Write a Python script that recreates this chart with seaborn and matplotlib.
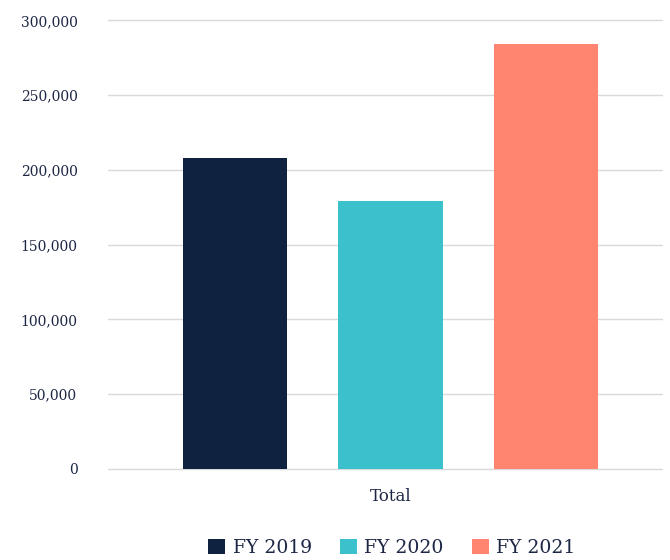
import matplotlib
matplotlib.use("Agg")
import matplotlib.pyplot as plt
import seaborn as sns
import pandas as pd
from matplotlib.ticker import FuncFormatter

categories = ["Total"]
series = ["FY 2019", "FY 2020", "FY 2021"]
values = [208000, 179500, 284000]
colors = ["#0f2341", "#3ac1cb", "#ff8571"]

df = pd.DataFrame({"cat": categories * len(series), "year": series, "value": values})

sns.set_theme(style="white")
plt.rcParams["font.family"] = ["DejaVu Serif"]
text_color = "#1d2745"

fig = plt.figure(figsize=(6.7, 5.6), dpi=100)
ax = fig.add_axes([108 / 670, 1 - 469 / 560, (662 - 108) / 670, (469 - 20.3) / 560])

sns.barplot(data=df, x="cat", y="value", hue="year", palette=colors,
            width=0.842, gap=0.33, ax=ax, saturation=1, legend=True,
            linewidth=0, edgecolor="none")

ax.set_ylim(0, 300000)
ax.set_xlim(-0.51, 0.49)
ax.set_yticks(range(0, 300001, 50000))
ax.yaxis.set_major_formatter(FuncFormatter(lambda v, p: f"{int(v):,}"))
ax.grid(axis="y", color="#d9d9d9", linewidth=1)
ax.set_axisbelow(True)
for gl in ax.get_ygridlines():
    gl.set_clip_on(False)
for s in ax.spines.values():
    s.set_visible(False)
ax.tick_params(axis="y", length=0, pad=22, labelsize=10, labelcolor=text_color)
ax.tick_params(axis="x", length=0, pad=14, labelsize=12, labelcolor=text_color)
ax.set_xlabel("")
ax.set_ylabel("")

handles, labels = ax.get_legend_handles_labels()
ax.get_legend().remove()
fig.legend(handles, labels, loc="center", bbox_to_anchor=(392 / 670, 1 - 548 / 560),
           ncol=3, frameon=False, fontsize=13.5, labelcolor=text_color,
           handlelength=0.9, handleheight=0.9, handletextpad=0.4, columnspacing=1.5)

fig.savefig("out.png", dpi=100)
